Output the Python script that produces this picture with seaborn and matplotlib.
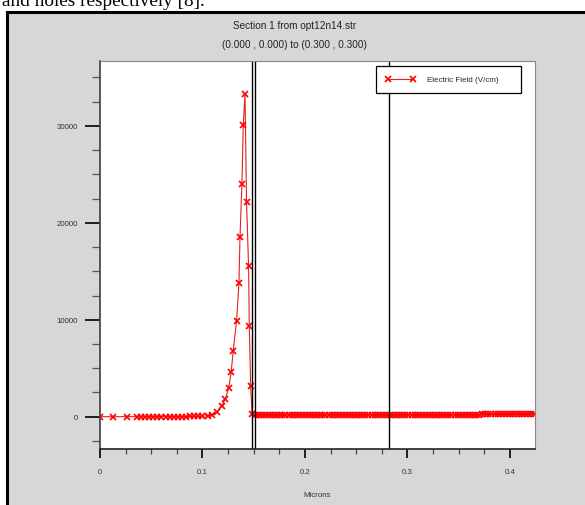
import pandas as pd
import seaborn as sns
import matplotlib.pyplot as plt
from matplotlib.patches import Rectangle
from matplotlib.ticker import MultipleLocator

# --- data ---
# left part: zero field, the junction peak and the drop
x_left = [0.000, 0.013, 0.026, 0.036, 0.040, 0.044, 0.048, 0.052, 0.056, 0.060,
          0.064, 0.068, 0.072, 0.076, 0.080, 0.084, 0.088, 0.092, 0.096, 0.100,
          0.105, 0.109, 0.1138, 0.1187, 0.1223, 0.1255, 0.1280, 0.1300, 0.1333, 0.1356,
          0.1366, 0.1385, 0.1398, 0.1415, 0.1430, 0.1450, 0.1457, 0.1470, 0.1485]
e_left = [0, 0, 0, 0, 0, 0, 0, 0, 0, 0,
          0, 5, 8, 10, 15, 20, 25, 35, 45, 60,
          100, 175, 450, 1130, 1820, 2930, 4580, 6800, 9900, 13780,
          18500, 23960, 30100, 33340, 22200, 15500, 9320, 3130, 230]

# right part: dense mesh, low flat field
x_band = [0.151, 0.154, 0.157, 0.160, 0.163, 0.166, 0.169, 0.172, 0.175, 0.178,
          0.181, 0.184, 0.187, 0.190, 0.193, 0.196, 0.199, 0.202, 0.205, 0.208,
          0.211, 0.214, 0.217, 0.220, 0.223, 0.226, 0.229, 0.232, 0.235, 0.238,
          0.241, 0.244, 0.247, 0.250, 0.253, 0.256, 0.259, 0.262, 0.265, 0.268,
          0.271, 0.274, 0.277, 0.280, 0.283, 0.286, 0.289, 0.292, 0.295, 0.298,
          0.301, 0.304, 0.307, 0.310, 0.313, 0.316, 0.319, 0.322, 0.325, 0.328,
          0.331, 0.334, 0.337, 0.340, 0.343, 0.346, 0.349, 0.352, 0.355, 0.358,
          0.361, 0.364, 0.367, 0.370, 0.373, 0.376, 0.379, 0.382, 0.385, 0.388,
          0.391, 0.394, 0.397, 0.400, 0.403, 0.406, 0.409, 0.412, 0.415, 0.418,
          0.421, 0.424]
e_band = [190, 185, 180, 180, 175, 175, 175, 170, 170, 170,
          170, 170, 170, 172, 172, 172, 175, 175, 175, 175,
          175, 175, 178, 178, 178, 178, 180, 180, 180, 180,
          180, 180, 180, 180, 182, 182, 182, 182, 182, 182,
          182, 182, 183, 183, 183, 183, 183, 183, 183, 183,
          184, 184, 184, 184, 184, 184, 185, 185, 185, 185,
          185, 185, 185, 185, 185, 186, 186, 186, 186, 186,
          186, 188, 190, 200, 270, 280, 280, 285, 285, 285,
          285, 285, 285, 286, 286, 286, 288, 288, 288, 290,
          290, 290]

section_lines = [0.1486, 0.1512, 0.2823]

x_major = [0, 0.1, 0.2, 0.3, 0.4]
x_labels = ["0", "0.1", "0.2", "0.3", "0.4"]
y_major = [0, 10000, 20000, 30000]
y_labels = ["0", "10000", "20000", "30000"]

series_label = "Electric Field (V/cm)"
title_1 = "Section 1 from opt12n14.str"
title_2 = "(0.000 , 0.000) to (0.300 , 0.300)"
page_text = "and holes respectively [8]."

df = pd.DataFrame({"Microns": x_left + x_band, "Field": e_left + e_band})

# --- figure ---
sns.set_theme(style="ticks")
plt.rcParams["font.family"] = ["Liberation Sans", "DejaVu Sans"]

fig = plt.figure(figsize=(5.85, 5.06), dpi=100)
fig.patch.set_facecolor("white")

# grey tonyplot panel with its black frame
panel = Rectangle((6.5 / 585, -0.02), 1.1, (506 - 12.5) / 506 + 0.02,
                  transform=fig.transFigure, facecolor="#d7d7d7",
                  edgecolor="black", linewidth=2.2, zorder=-5)
fig.add_artist(panel)

# cut-off line of the page text above the screenshot
fig.text(2 / 585, 1 - 6.5 / 506, page_text, family=["Liberation Serif", "DejaVu Serif"],
         fontsize=13.9, ha="left", va="baseline", color="black")

fig.text(0.503, 1 - 26 / 506, title_1, ha="center", va="center", fontsize=7.2, color="#222222")
fig.text(0.503, 1 - 45 / 506, title_2, ha="center", va="center", fontsize=7.2, color="#222222")

ax = fig.add_axes([100 / 585, 1 - 450 / 506, 435 / 585, 388 / 506])
ax.set_facecolor("white")

sns.lineplot(data=df, x="Microns", y="Field", ax=ax, sort=False, estimator=None,
             color="#e32020", linewidth=0.8, marker="x", markersize=4.3,
             markeredgewidth=1.2, markeredgecolor="#ff0000", legend=False)
line = ax.get_lines()[0]

for xv in section_lines:
    ax.axvline(xv, color="black", linewidth=1.0)

ax.set_xlim(0, 0.4245)
ax.set_ylim(-3330, 36700)
ax.set_xticks(x_major)
ax.set_xticklabels(x_labels)
ax.xaxis.set_minor_locator(MultipleLocator(0.025))
ax.set_yticks(y_major)
ax.set_yticklabels(y_labels)
ax.yaxis.set_minor_locator(MultipleLocator(2500))

ax.tick_params(axis="y", which="major", length=10.8, width=1.2, color="black",
               pad=5, labelsize=5.7, labelcolor="#333333")
ax.tick_params(axis="y", which="minor", length=5.8, width=0.9, color="#555555")
ax.tick_params(axis="x", which="major", length=6.5, width=1.2, color="black",
               pad=7, labelsize=5.7, labelcolor="#333333")
ax.tick_params(axis="x", which="minor", length=3.6, width=0.9, color="#444444")

ax.set_xlabel("Microns", fontsize=5.7, color="#333333", labelpad=11.5)
ax.set_ylabel("")

ax.spines["left"].set_color("#444444")
ax.spines["bottom"].set_color("#222222")
ax.spines["bottom"].set_linewidth(1.2)
for side in ["top", "right"]:
    ax.spines[side].set_color("#888888")
    ax.spines[side].set_linewidth(0.8)

leg = ax.legend([line], [series_label], loc="upper left",
                bbox_to_anchor=(0.634, 0.912, 0.334, 0.075), mode="expand",
                borderaxespad=0, numpoints=2, handlelength=3.7, handletextpad=1.5,
                borderpad=1.2, fontsize=5.8, frameon=True, fancybox=False,
                framealpha=1, edgecolor="black")
leg.get_frame().set_linewidth(0.9)

fig.savefig("out.png", dpi=100)
